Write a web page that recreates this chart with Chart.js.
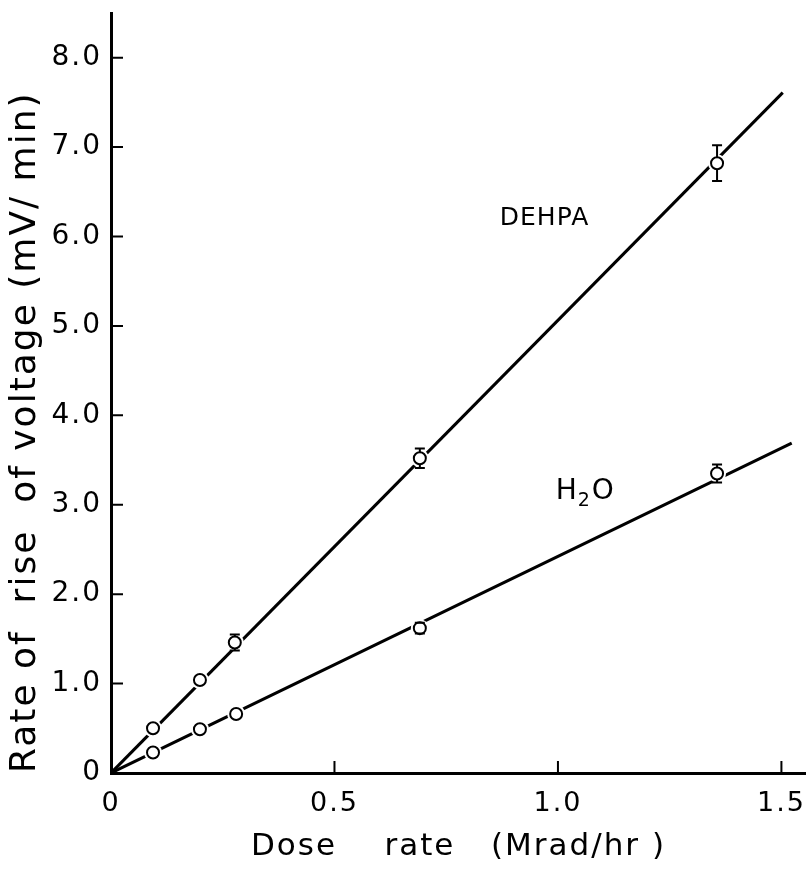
<html>
<head>
    <script src="https://cdn.jsdelivr.net/npm/chart.js"></script>
    <style>
        body { margin: 0; background: #fff; }
        #wrap { width: 806px; height: 871px; }
    </style>
</head>
<body>
<div id="wrap"><canvas id="myChart" width="806" height="871"></canvas></div>
<script>
    // measured points (dose rate in Mrad/hr, rate of rise in mV/min)
    const doseDEHPA = [0.094, 0.199, 0.277, 0.691, 1.356];
    const rateDEHPA = [0.50, 1.04, 1.46, 3.52, 6.82];
    const errDEHPA  = [0, 0, 0.09, 0.11, 0.2];

    const doseH2O = [0.094, 0.199, 0.28, 0.691, 1.356];
    const rateH2O = [0.23, 0.49, 0.66, 1.62, 3.35];
    const errH2O  = [0, 0, 0, 0.06, 0.1];

    // fitted straight lines (end points)
    const fitDEHPA = [[0, 0], [1.503, 7.61]];
    const fitH2O   = [[0, 0], [1.523, 3.69]];

    const xTicks = [0, 0.5, 1.0, 1.5];
    const xTickLabels = ['0', '0.5', '1.0', '1.5'];
    const yTicks = [0, 1, 2, 3, 4, 5, 6, 7, 8];
    const yTickLabels = ['0', '1.0', '2.0', '3.0', '4.0', '5.0', '6.0', '7.0', '8.0'];

    const FONT = 'DejaVu Sans';
    const pts = (xs, ys) => xs.map((x, i) => ({x: x, y: ys[i]}));
    const line = a => a.map(p => ({x: p[0], y: p[1]}));

    const lineStyle = {
        borderColor: '#000', borderWidth: 3, pointRadius: 0, showLine: true, order: 3
    };
    const haloStyle = {
        showLine: false, pointRadius: 9, pointBackgroundColor: '#fff',
        pointBorderColor: '#fff', pointBorderWidth: 0, order: 2
    };
    const markStyle = {
        showLine: false, pointRadius: 6, pointBackgroundColor: '#fff',
        pointBorderColor: '#000', pointBorderWidth: 2, order: 1
    };

    // wide lettering for the axes text
    const spacing = {
        id: 'spacing',
        beforeDraw(chart) { chart.ctx.letterSpacing = '2px'; },
        beforeDatasetsDraw(chart) { chart.ctx.letterSpacing = '0px'; }
    };

    // error bars + inside ticks + curve labels
    const extras = {
        id: 'extras',
        afterDatasetsDraw(chart) {
            const c = chart.ctx;
            const xs = chart.scales.x, ys = chart.scales.y;
            c.save();
            c.strokeStyle = '#000';
            c.lineWidth = 2;
            [[doseDEHPA, rateDEHPA, errDEHPA], [doseH2O, rateH2O, errH2O]].forEach(s => {
                s[0].forEach((d, i) => {
                    const e = s[2][i];
                    if (!e) return;
                    const px = xs.getPixelForValue(d);
                    const top = ys.getPixelForValue(s[1][i] + e);
                    const bot = ys.getPixelForValue(s[1][i] - e);
                    const mid = ys.getPixelForValue(s[1][i]);
                    c.beginPath();
                    c.moveTo(px, top); c.lineTo(px, mid - 6);
                    c.moveTo(px, mid + 6); c.lineTo(px, bot);
                    c.moveTo(px - 5, top); c.lineTo(px + 5, top);
                    c.moveTo(px - 5, bot); c.lineTo(px + 5, bot);
                    c.stroke();
                });
            });
            // tick marks point into the plot
            c.beginPath();
            yTicks.forEach(v => {
                if (v === 0) return;
                const py = ys.getPixelForValue(v);
                c.moveTo(xs.left, py); c.lineTo(xs.left + 12, py);
            });
            xTicks.forEach(v => {
                if (v === 0) return;
                const px = xs.getPixelForValue(v);
                c.moveTo(px, ys.bottom); c.lineTo(px, ys.bottom - 12);
            });
            c.stroke();

            c.fillStyle = '#000';
            c.textBaseline = 'middle';
            c.textAlign = 'center';
            c.letterSpacing = '1px';
            c.font = '25px "' + FONT + '"';
            c.fillText('DEHPA', xs.getPixelForValue(0.97), ys.getPixelForValue(6.2));
            const hx = xs.getPixelForValue(0.995), hy = ys.getPixelForValue(3.15);
            c.textAlign = 'left';
            c.font = '28px "' + FONT + '"';
            c.fillText('H', hx, hy);
            const w = c.measureText('H').width;
            c.font = '19px "' + FONT + '"';
            c.fillText('2', hx + w, hy + 10);
            c.font = '28px "' + FONT + '"';
            c.fillText('O', hx + w + 14, hy);
            c.restore();
        }
    };

    const ctx = document.getElementById('myChart').getContext('2d');
    const myChart = new Chart(ctx, {
        type: 'scatter',
        data: {
            datasets: [
                Object.assign({label: 'DEHPA fit', data: line(fitDEHPA)}, lineStyle),
                Object.assign({label: 'H2O fit', data: line(fitH2O)}, lineStyle),
                Object.assign({label: 'DEHPA halo', data: pts(doseDEHPA, rateDEHPA)}, haloStyle),
                Object.assign({label: 'H2O halo', data: pts(doseH2O, rateH2O)}, haloStyle),
                Object.assign({label: 'DEHPA', data: pts(doseDEHPA, rateDEHPA)}, markStyle),
                Object.assign({label: 'H2O', data: pts(doseH2O, rateH2O)}, markStyle)
            ]
        },
        options: {
            responsive: false,
            animation: false,
            layout: { autoPadding: false, padding: { top: 13, right: 0, left: 0, bottom: 0 } },
            plugins: {
                legend: { display: false },
                tooltip: { enabled: false }
            },
            scales: {
                x: {
                    type: 'linear',
                    min: 0,
                    max: 1.555,
                    afterFit: s => { s.height = 98; s.paddingLeft = 0; s.paddingRight = 0; },
                    afterBuildTicks: s => { s.ticks = xTicks.map(v => ({value: v})); },
                    grid: { display: false, drawTicks: false },
                    border: { color: '#000', width: 3 },
                    ticks: {
                        color: '#000',
                        padding: 15,
                        maxRotation: 0,
                        font: { family: FONT, size: 27 },
                        callback: (v) => xTickLabels[xTicks.indexOf(v)]
                    },
                    title: {
                        display: true,
                        text: 'Dose    rate   (Mrad/hr )',
                        color: '#000',
                        font: { family: FONT, size: 31 },
                        padding: { top: 0, bottom: 5 }
                    }
                },
                y: {
                    type: 'linear',
                    min: 0,
                    max: 8.5,
                    afterFit: s => { s.width = 111; s.paddingTop = 0; s.paddingBottom = 0; },
                    afterBuildTicks: s => { s.ticks = yTicks.map(v => ({value: v})); },
                    grid: { display: false, drawTicks: false },
                    border: { color: '#000', width: 3 },
                    ticks: {
                        color: '#000',
                        padding: 9,
                        font: { family: FONT, size: 28 },
                        callback: (v) => yTickLabels[yTicks.indexOf(v)]
                    },
                    title: {
                        display: true,
                        text: 'Rate of  rise  of voltage (mV/ min)',
                        align: 'start',
                        color: '#000',
                        font: { family: FONT, size: 36 },
                        padding: { top: 4, bottom: 0 }
                    }
                }
            }
        },
        plugins: [spacing, extras]
    });
</script>
</body>
</html>
